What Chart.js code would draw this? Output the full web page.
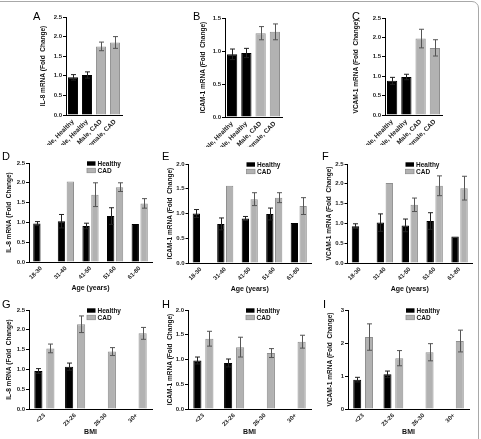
<!DOCTYPE html>
<html>
<head>
<meta charset="utf-8">
<script src="https://cdn.jsdelivr.net/npm/chart.js@4/dist/chart.umd.min.js"></script>
<style>
  html, body { margin: 0; padding: 0; background: #fff; overflow: hidden; }
  #fig { position: relative; width: 481px; height: 439px; overflow: hidden; }
  #fig canvas { position: absolute; left: 0; top: 0; }
  .frame { position: absolute; left: -10px; top: 1px; width: 487px; height: 460px;
           border: 1px solid #a8a8a8; border-radius: 7px; }
  .tag { position: absolute; font: 11px "Liberation Sans", Arial, sans-serif; line-height: 11px; color: #000; }
</style>
</head>
<body>
<div id="fig">
  <div class="frame"></div>
</div>
<script>
// categories
const sexLabels = ['Male, Healthy', 'Female, Healthy', 'Male, CAD', 'Female, CAD'];
const ageLabels = ['18-30', '31-40', '41-50', '51-60', '61-80'];
const bmiLabels = ['<23', '23-26', '26-30', '30+'];

// A-C: by sex and group
const il8Sex = [0.96, 1.02, 1.75, 1.85];
const il8SexErr = [0.07, 0.08, 0.11, 0.15];
const icamSex = [0.95, 0.97, 1.27, 1.29];
const icamSexErr = [0.08, 0.07, 0.10, 0.12];
const vcamSex = [0.88, 0.98, 1.97, 1.73];
const vcamSexErr = [0.09, 0.07, 0.24, 0.21];

// D-F: by age
const il8AgeHealthy = [0.97, 1.03, 0.91, 1.16, 0.96];
const il8AgeHealthyErr = [0.05, 0.17, 0.07, 0.21, null];
const il8AgeCad = [null, 2.03, 1.70, 1.89, 1.48];
const il8AgeCadErr = [null, null, 0.30, 0.11, 0.12];
const icamAgeHealthy = [1.0, 0.79, 0.90, 0.99, 0.81];
const icamAgeHealthyErr = [0.08, 0.12, 0.04, 0.12, null];
const icamAgeCad = [null, 1.56, 1.29, 1.32, 1.15];
const icamAgeCadErr = [null, null, 0.13, 0.10, 0.17];
const vcamAgeHealthy = [0.93, 1.02, 0.95, 1.06, 0.67];
const vcamAgeHealthyErr = [0.06, 0.22, 0.16, 0.21, null];
const vcamAgeCad = [null, 2.02, 1.47, 1.95, 1.89];
const vcamAgeCadErr = [null, null, 0.17, 0.25, 0.30];

// G-I: by BMI
const il8BmiHealthy = [0.96, 1.07, null, null];
const il8BmiHealthyErr = [0.06, 0.09, null, null];
const il8BmiCad = [1.53, 2.14, 1.45, 1.91];
const il8BmiCadErr = [0.11, 0.21, 0.10, 0.15];
const icamBmiHealthy = [0.98, 0.93, null, null];
const icamBmiHealthyErr = [0.07, 0.08, null, null];
const icamBmiCad = [1.42, 1.25, 1.13, 1.36];
const icamBmiCadErr = [0.15, 0.20, 0.09, 0.13];
const vcamBmiHealthy = [0.89, 1.05, null, null];
const vcamBmiHealthyErr = [0.07, 0.10, null, null];
const vcamBmiCad = [2.18, 1.54, 1.72, 2.06];
const vcamBmiCadErr = [0.40, 0.23, 0.26, 0.33];

// y axis ticks
const ticks25 = { max: 2.5, step: 0.5, dec: 1 };
const ticks20 = { max: 2.0, step: 0.5, dec: 1 };
const ticks15 = { max: 1.5, step: 0.5, dec: 1 };
const ticks3 = { max: 3, step: 1, dec: 0 };

const FONT = '"Liberation Sans", Arial, sans-serif';
const BLACK = '#000000';
const GREY = '#b2b2b2';
const GREY_EDGE = '#8f8f8f';
const W = 481, H = 439;

// draws mean +/- error whiskers on top of the bars
const errorBars = {
  id: 'errorBars',
  afterDatasetsDraw(chart) {
    const { ctx } = chart;
    const y = chart.scales.y;
    chart.data.datasets.forEach((ds, i) => {
      if (!ds.errors) return;
      const meta = chart.getDatasetMeta(i);
      meta.data.forEach((bar, j) => {
        const v = ds.data[j], e = ds.errors[j];
        if (v == null || e == null) return;
        const yt = y.getPixelForValue(v + e);
        const yb = y.getPixelForValue(v - e);
        const x = Math.round(bar.x) + 0.5;
        ctx.save();
        ctx.strokeStyle = Array.isArray(ds.errorColor) ? ds.errorColor[j] : ds.errorColor;
        ctx.lineWidth = 1;
        ctx.beginPath();
        ctx.moveTo(x, yt); ctx.lineTo(x, yb);
        ctx.moveTo(x - 2.5, yt); ctx.lineTo(x + 2.5, yt);
        ctx.moveTo(x - 2.5, yb); ctx.lineTo(x + 2.5, yb);
        ctx.stroke();
        ctx.restore();
      });
    });
  }
};

// small legend inside the plot, as in the figure
const miniLegend = {
  id: 'miniLegend',
  afterDraw(chart, args, opts) {
    if (!opts.show) return;
    const { ctx, chartArea } = chart;
    ctx.save();
    ctx.font = 'bold 6.5px ' + FONT;
    ctx.textBaseline = 'middle';
    chart.data.datasets.forEach((ds, i) => {
      const x = chartArea.left + 58;
      const y = chartArea.top + 0.5 + i * 7;
      ctx.fillStyle = ds.backgroundColor;
      ctx.fillRect(x, y - 2.2, 8.5, 4.4);
      if (ds.borderColor !== ds.backgroundColor) {
        ctx.strokeStyle = ds.borderColor;
        ctx.lineWidth = 0.8;
        ctx.strokeRect(x, y - 2.2, 8.5, 4.4);
      }
      ctx.fillStyle = '#111';
      ctx.fillText(ds.label, x + 10.5, y + 0.3);
    });
    ctx.restore();
  }
};

Chart.register(errorBars, miniLegend);

function panel(p) {
  const cv = document.createElement('canvas');
  cv.width = W; cv.height = H;
  document.getElementById('fig').appendChild(cv);

  const [left, top, right, bottom] = p.box;
  const padLeft = p.titleX - 3.9;
  const xH = p.xH;

  new Chart(cv, {
    type: 'bar',
    data: { labels: p.labels, datasets: p.datasets },
    options: {
      responsive: false,
      animation: false,
      events: [],
      layout: { padding: { left: padLeft, right: W - right, top: top, bottom: H - bottom - xH } },
      datasets: { bar: { categoryPercentage: p.cat, barPercentage: p.bar } },
      plugins: {
        legend: { display: false },
        tooltip: { enabled: false },
        miniLegend: { show: p.legend }
      },
      scales: {
        x: {
          grid: { display: true, drawOnChartArea: false, drawTicks: false },
          border: { color: '#000', width: 1 },
          ticks: {
            autoSkip: false, minRotation: 45, maxRotation: 45, padding: 3,
            color: '#222', font: { family: FONT, size: p.xFont, weight: 'bold' }
          },
          title: {
            display: !!p.xTitle, text: p.xTitle || '', padding: 0, color: '#111',
            font: { family: FONT, size: 7, weight: 'bold' }
          },
          afterFit: s => { s.height = xH; }
        },
        y: {
          min: 0, max: p.ticks.max,
          grid: { drawOnChartArea: false, drawTicks: true, tickLength: 3, color: '#000' },
          border: { color: '#000', width: 1 },
          ticks: {
            stepSize: p.ticks.step, padding: 1, color: '#222',
            font: { family: FONT, size: 6, weight: 'bold' },
            callback: v => Number(v).toFixed(p.ticks.dec)
          },
          title: {
            display: true, text: p.yTitle, padding: 0, color: '#111',
            font: { family: FONT, size: 6.5, weight: 'bold' }
          },
          afterFit: s => { s.width = left - padLeft; }
        }
      }
    }
  });
}

function sexSet(values, errors) {
  return [{
    label: 'mean',
    data: values,
    errors: errors,
    backgroundColor: [BLACK, BLACK, GREY, GREY],
    borderColor: [BLACK, BLACK, GREY_EDGE, GREY_EDGE],
    borderWidth: 1,
    errorColor: ['#222', '#222', '#555', '#555']
  }];
}

function groupSets(healthy, healthyErr, cad, cadErr) {
  return [
    { label: 'Healthy', data: healthy, errors: healthyErr, backgroundColor: BLACK, borderColor: BLACK,
      borderWidth: 1, errorColor: '#222' },
    { label: 'CAD', data: cad, errors: cadErr, backgroundColor: GREY, borderColor: GREY_EDGE,
      borderWidth: 1, errorColor: '#555' }
  ];
}

const il8Title = 'IL-8 mRNA (Fold  Change)';
const icamTitle = 'ICAM-1 mRNA (Fold  Change)';
const vcamTitle = 'VCAM-1 mRNA (Fold  Change)';

// row 1
panel({ box: [66, 17, 122, 115], titleX: 43, xH: 30, labels: sexLabels, xFont: 6.5, cat: 1, bar: 0.72,
        ticks: ticks25, yTitle: il8Title, datasets: sexSet(il8Sex, il8SexErr) });
panel({ box: [225, 18, 282, 117], titleX: 203, xH: 30, labels: sexLabels, xFont: 6.5, cat: 1, bar: 0.72,
        ticks: ticks15, yTitle: icamTitle, datasets: sexSet(icamSex, icamSexErr) });
panel({ box: [385, 18, 442, 115], titleX: 356, xH: 30, labels: sexLabels, xFont: 6.5, cat: 1, bar: 0.72,
        ticks: ticks25, yTitle: vcamTitle, datasets: sexSet(vcamSex, vcamSexErr) });

// row 2
panel({ box: [29, 163, 152, 262], titleX: 9.5, xH: 30, labels: ageLabels, xFont: 6, cat: 0.72, bar: 0.83,
        ticks: ticks25, yTitle: il8Title, xTitle: 'Age (years)', legend: true,
        datasets: groupSets(il8AgeHealthy, il8AgeHealthyErr, il8AgeCad, il8AgeCadErr) });
panel({ box: [188.5, 164, 311, 263], titleX: 170, xH: 30, labels: ageLabels, xFont: 6, cat: 0.72, bar: 0.83,
        ticks: ticks20, yTitle: icamTitle, xTitle: 'Age (years)', legend: true,
        datasets: groupSets(icamAgeHealthy, icamAgeHealthyErr, icamAgeCad, icamAgeCadErr) });
panel({ box: [347.5, 164, 472, 263], titleX: 329.5, xH: 30, labels: ageLabels, xFont: 6, cat: 0.72, bar: 0.83,
        ticks: ticks25, yTitle: vcamTitle, xTitle: 'Age (years)', legend: true,
        datasets: groupSets(vcamAgeHealthy, vcamAgeHealthyErr, vcamAgeCad, vcamAgeCadErr) });

// row 3
panel({ box: [29, 310, 152, 409], titleX: 9, xH: 27, labels: bmiLabels, xFont: 6, cat: 0.78, bar: 0.68,
        ticks: ticks25, yTitle: il8Title, xTitle: 'BMI', legend: true,
        datasets: groupSets(il8BmiHealthy, il8BmiHealthyErr, il8BmiCad, il8BmiCadErr) });
panel({ box: [188, 310, 311, 409], titleX: 170, xH: 27, labels: bmiLabels, xFont: 6, cat: 0.78, bar: 0.68,
        ticks: ticks20, yTitle: icamTitle, xTitle: 'BMI', legend: true,
        datasets: groupSets(icamBmiHealthy, icamBmiHealthyErr, icamBmiCad, icamBmiCadErr) });
panel({ box: [348, 310, 469, 409], titleX: 330, xH: 27, labels: bmiLabels, xFont: 6, cat: 0.78, bar: 0.68,
        ticks: ticks3, yTitle: vcamTitle, xTitle: 'BMI', legend: true,
        datasets: groupSets(vcamBmiHealthy, vcamBmiHealthyErr, vcamBmiCad, vcamBmiCadErr) });

// panel letters
const tags = [['A', 33, 10.5], ['B', 193, 10.5], ['C', 352, 10.5],
              ['D', 2, 150.5], ['E', 162, 150.5], ['F', 322, 150.5],
              ['G', 2, 298.5], ['H', 162, 298.5], ['I', 323, 298.5]];
tags.forEach(([t, x, y]) => {
  const d = document.createElement('div');
  d.className = 'tag';
  d.textContent = t;
  d.style.left = x + 'px';
  d.style.top = y + 'px';
  document.getElementById('fig').appendChild(d);
});
</script>
</body>
</html>
